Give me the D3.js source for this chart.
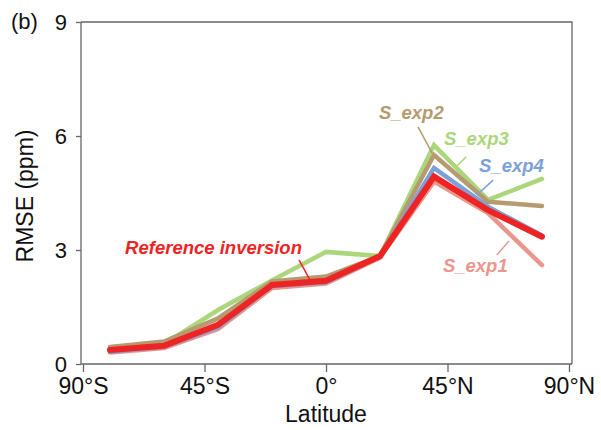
<!DOCTYPE html>
<html>
<head>
<meta charset="utf-8">
<script src="https://cdn.jsdelivr.net/npm/d3@7"></script>
<style>
  body { margin: 0; background: #fff; }
  svg { font-family: "Liberation Sans", Arial, sans-serif; }
</style>
</head>
<body>
<div id="chart"></div>
<script>
// data
const latitudes = [-80, -60, -40, -20, 0, 20, 40, 60, 80];
const refInversion = [0.37, 0.48, 1.03, 2.08, 2.19, 2.84, 4.93, 4.05, 3.35];
const sExp1 = [0.30, 0.42, 0.92, 2.00, 2.12, 2.80, 4.80, 3.97, 2.60];
const sExp2 = [0.45, 0.59, 1.20, 2.17, 2.30, 2.84, 5.50, 4.27, 4.16];
const sExp3 = [0.40, 0.52, 1.42, 2.20, 2.95, 2.84, 5.76, 4.32, 4.87];
const sExp4 = [0.32, 0.45, 0.97, 2.05, 2.15, 2.82, 5.16, 4.14, 3.38];

const xTicks = [-90, -45, 0, 45, 90];
const xTickLabels = ["90°S", "45°S", "0°", "45°N", "90°N"];
const yTicks = [0, 3, 6, 9];

// series, in drawing order (reference on top)
const series = [
  { name: "S_exp1", values: sExp1, color: "#e9968c", width: 4.5 },
  { name: "S_exp3", values: sExp3, color: "#acd67c", width: 4.5 },
  { name: "S_exp2", values: sExp2, color: "#b59b6f", width: 4.5 },
  { name: "S_exp4", values: sExp4, color: "#7ca1d9", width: 4.5 },
  { name: "Reference inversion", values: refInversion, color: "#ee2424", width: 6 },
];

// annotation labels in data units: text anchor + leader line
const labels = [
  { name: "S_exp2", color: "#b59b6f", at: [19.6, 6.45], lead: [[34.1, 6.24], [39.3, 5.55]] },
  { name: "S_exp3", color: "#acd67c", at: [43.7, 5.76], lead: [[51.9, 5.45], [48.5, 5.21]] },
  { name: "S_exp4", color: "#7ca1d9", at: [56.7, 5.05], lead: [[61.9, 4.84], [55.9, 4.45]] },
  { name: "S_exp1", color: "#e9968c", at: [43.3, 2.42], lead: [[67.8, 3.24], [63.3, 2.87]] },
  { name: "Reference inversion", color: "#ee2424", at: [-74.4, 2.89], lead: [[-10, 2.74], [-5.9, 2.21]] },
];

const W = 601, H = 430;
const frame = { left: 81, right: 572, top: 22, bottom: 364 };

const svg = d3.select("#chart").append("svg")
  .attr("width", W).attr("height", H);

const x = d3.scaleLinear().domain([-90, 90]).range([83, 569]);
const y = d3.scaleLinear().domain([0, 9]).range([frame.bottom, frame.top]);

// frame
const axisColor = "#666";
svg.append("path")
  .attr("d", `M${frame.left},${frame.top}H${frame.right}V${frame.bottom}`)
  .attr("fill", "none").attr("stroke", axisColor).attr("stroke-width", 1.3);

// x axis
svg.append("g")
  .attr("transform", `translate(0,${frame.bottom})`)
  .call(d3.axisBottom(x).tickValues(xTicks).tickSize(8).tickPadding(6)
    .tickFormat((d, i) => xTickLabels[i]))
  .call(g => {
    g.select(".domain").attr("d", `M${frame.left},0H${frame.right}`)
      .attr("stroke", axisColor).attr("stroke-width", 1.3);
    g.selectAll(".tick line").attr("stroke", axisColor).attr("stroke-width", 1.3);
    g.selectAll(".tick text").attr("fill", "#111")
      .style("font-size", "23px").style("font-family", "Liberation Sans, Arial, sans-serif");
  });

// y axis
svg.append("g")
  .attr("transform", `translate(${frame.left},0)`)
  .call(d3.axisLeft(y).tickValues(yTicks).tickSize(5).tickPadding(9))
  .call(g => {
    g.select(".domain").attr("stroke", axisColor).attr("stroke-width", 1.3)
      .attr("d", `M0,${frame.bottom}V${frame.top}`);
    g.selectAll(".tick line").attr("stroke", axisColor).attr("stroke-width", 1.3);
    g.selectAll(".tick text").attr("fill", "#111")
      .style("font-size", "22px").style("font-family", "Liberation Sans, Arial, sans-serif");
  });

// axis titles
svg.append("text")
  .attr("x", (x(-90) + x(90)) / 2).attr("y", 422)
  .attr("text-anchor", "middle").attr("fill", "#111")
  .style("font-size", "23px").text("Latitude");

svg.append("text")
  .attr("transform", `translate(33,196) rotate(-90)`)
  .attr("text-anchor", "middle").attr("fill", "#111")
  .style("font-size", "23px").text("RMSE (ppm)");

svg.append("text")
  .attr("x", 11).attr("y", 29).attr("fill", "#111")
  .style("font-size", "22px").text("(b)");

// lines
const line = d3.line()
  .x((d, i) => x(latitudes[i]))
  .y(d => y(d));

svg.append("g").selectAll("path")
  .data(series)
  .join("path")
  .attr("fill", "none")
  .attr("stroke", d => d.color)
  .attr("stroke-width", d => d.width)
  .attr("stroke-linejoin", "miter")
  .attr("stroke-linecap", "round")
  .attr("d", d => line(d.values));

// annotation labels
const ann = svg.append("g");
ann.selectAll("line")
  .data(labels)
  .join("line")
  .attr("x1", d => x(d.lead[0][0])).attr("y1", d => y(d.lead[0][1]))
  .attr("x2", d => x(d.lead[1][0])).attr("y2", d => y(d.lead[1][1]))
  .attr("stroke", d => d.color).attr("stroke-width", 1.5);

ann.selectAll("text")
  .data(labels)
  .join("text")
  .attr("x", d => x(d.at[0])).attr("y", d => y(d.at[1]))
  .attr("fill", d => d.color)
  .style("font-size", "18.5px")
  .style("font-weight", "bold")
  .style("font-style", "italic")
  .text(d => d.name);
</script>
</body>
</html>
